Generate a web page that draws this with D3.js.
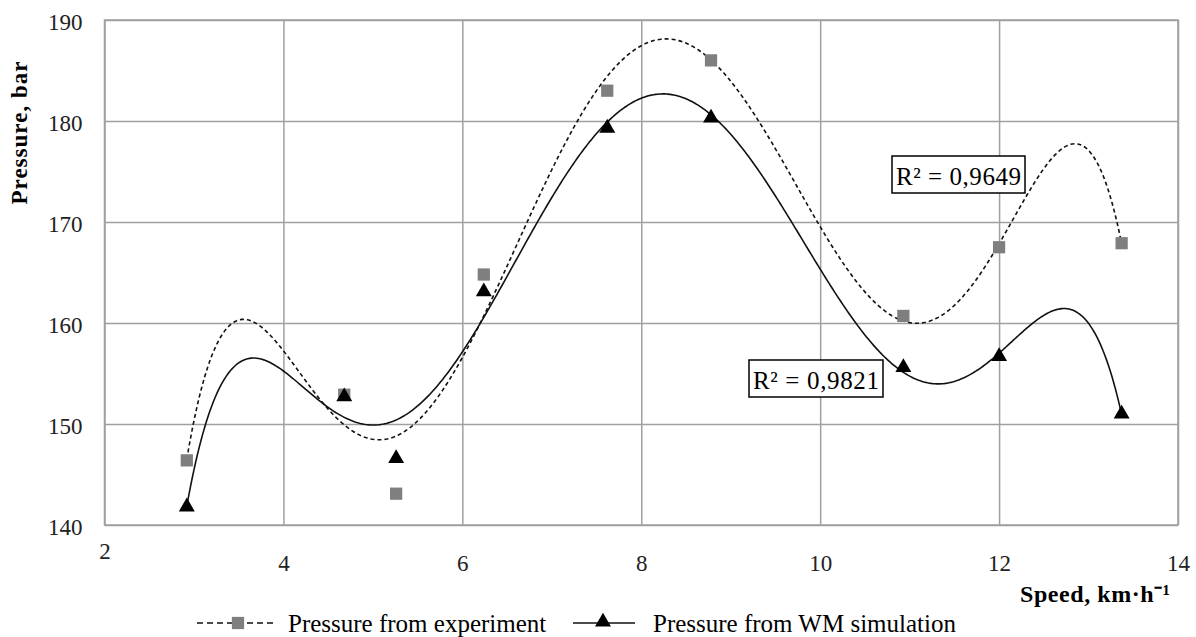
<!DOCTYPE html>
<html>
<head>
<meta charset="utf-8">
<script src="https://cdn.jsdelivr.net/npm/d3@7"></script>
<style>
  body { margin: 0; background: #fff; }
  text { font-family: "Liberation Serif", "Times New Roman", serif; }
</style>
</head>
<body>
<main></main>
<script>
// values
const speed = [2.92, 4.68, 5.26, 6.24, 7.62, 8.78, 10.93, 12.0, 13.37]
const pressureExp = [146.4, 152.9, 143.1, 164.8, 183.0, 186.0, 160.7, 167.5, 167.9]
const pressureSim = [141.8, 152.7, 146.6, 163.1, 179.3, 180.3, 155.6, 156.7, 151.0]
const xTicks = [2, 4, 6, 8, 10, 12, 14]
const yTicks = [140, 150, 160, 170, 180, 190]
const seriesNames = ["Pressure from experiment", "Pressure from WM simulation"]
const r2Labels = ["R² = 0,9649", "R² = 0,9821"]

const svgWidth = 1196
const svgHeight = 637
const plotLeft = 104.5, plotRight = 1178, plotTop = 20, plotBottom = 525

let svg = d3.select("main")
    .append("svg")
    .attr("width", svgWidth)
    .attr("height", svgHeight)
    .style("background-color", "white")

let xScale = d3.scaleLinear().domain([2, 14]).range([plotLeft, plotRight])
let yScale = d3.scaleLinear().domain([140, 190]).range([plotBottom, plotTop])

/* grid + axes */

let xGrid = svg.append("g")
    .attr("transform", `translate(0, ${plotBottom})`)
    .call(d3.axisBottom(xScale).tickValues(xTicks).tickSize(-(plotBottom - plotTop)).tickFormat(d3.format("d")).tickPadding(30))

let yGrid = svg.append("g")
    .attr("transform", `translate(${plotLeft}, 0)`)
    .call(d3.axisLeft(yScale).tickValues(yTicks).tickSize(-(plotRight - plotLeft)).tickFormat(d3.format("d")).tickPadding(22))

for (const ax of [xGrid, yGrid]) {
    ax.select(".domain").remove()
    ax.selectAll("line").style("stroke", "#a0a0a0").style("stroke-width", 1.5)
    ax.selectAll("text").style("font-size", "23px").style("fill", "#222")
        .style("font-family", "'Liberation Serif', serif")
}
yGrid.selectAll("text").attr("dy", "0.42em")
// the "2" label sits higher in the original
xGrid.selectAll("text").filter(d => d === 2).attr("y", 18)

svg.append("rect")
    .attr("x", plotLeft).attr("y", plotTop)
    .attr("width", plotRight - plotLeft).attr("height", plotBottom - plotTop)
    .attr("fill", "none").attr("stroke", "#a0a0a0").attr("stroke-width", 1.5)

/* axis titles */

svg.append("text")
    .attr("transform", "translate(27, 133) rotate(-90)")
    .attr("text-anchor", "middle")
    .attr("textLength", 143)
    .style("font-size", "23px").style("font-weight", "bold")
    .text("Pressure, bar")

svg.append("text")
    .attr("x", 1020).attr("y", 602)
    .attr("textLength", 150)
    .style("font-size", "24px").style("font-weight", "bold")
    .text("Speed, km·h⁻¹")

/* polynomial trend lines (order 6, like the spreadsheet) */

function polyFit(xs, ys, order) {
    const mx = d3.mean(xs), sx = (d3.max(xs) - d3.min(xs)) / 2
    const t = xs.map(x => (x - mx) / sx)
    const n = order + 1
    let A = Array.from({ length: n }, () => new Array(n + 1).fill(0))
    t.forEach((ti, k) => {
        for (let i = 0; i < n; i++) {
            for (let j = 0; j < n; j++) A[i][j] += Math.pow(ti, i + j)
            A[i][n] += Math.pow(ti, i) * ys[k]
        }
    })
    for (let c = 0; c < n; c++) {
        let p = c
        for (let r = c + 1; r < n; r++) if (Math.abs(A[r][c]) > Math.abs(A[p][c])) p = r
        const tmp = A[c]; A[c] = A[p]; A[p] = tmp
        for (let r = 0; r < n; r++) {
            if (r === c) continue
            const f = A[r][c] / A[c][c]
            for (let j = c; j <= n; j++) A[r][j] -= f * A[c][j]
        }
    }
    const coef = A.map((row, i) => row[n] / row[i])
    return x => {
        const u = (x - mx) / sx
        return coef.reduce((s, c, i) => s + c * Math.pow(u, i), 0)
    }
}

const xs = d3.range(d3.min(speed), d3.max(speed) + 0.001, 0.02)
const fitExp = polyFit(speed, pressureExp, 6)
const fitSim = polyFit(speed, pressureSim, 6)

let line = d3.line().x(d => xScale(d[0])).y(d => yScale(d[1]))

svg.append("path")
    .attr("d", line(xs.map(x => [x, fitExp(x)])))
    .attr("fill", "none").attr("stroke", "#111").attr("stroke-width", 1.6)
    .attr("stroke-dasharray", "4,3")

svg.append("path")
    .attr("d", line(xs.map(x => [x, fitSim(x)])))
    .attr("fill", "none").attr("stroke", "#111").attr("stroke-width", 1.6)

/* markers */

const square = d3.symbol().type(d3.symbolSquare).size(150)
const triangle = d3.symbol().type(d3.symbolTriangle).size(110)

svg.append("g").selectAll("path")
    .data(speed.map((s, i) => [s, pressureExp[i]]))
    .enter().append("path")
    .attr("d", square)
    .attr("transform", d => `translate(${xScale(d[0])}, ${yScale(d[1])})`)
    .attr("fill", "#7f7f7f")

svg.append("g").selectAll("path")
    .data(speed.map((s, i) => [s, pressureSim[i]]))
    .enter().append("path")
    .attr("d", triangle)
    .attr("transform", d => `translate(${xScale(d[0])}, ${yScale(d[1])})`)
    .attr("fill", "#000")

/* R² boxes */

const boxes = [
    { x: 892, y: 156, w: 133, h: 37, text: r2Labels[0] },
    { x: 749, y: 360, w: 134, h: 37, text: r2Labels[1] }
]
let rg = svg.append("g").selectAll("g").data(boxes).enter().append("g")
rg.append("rect")
    .attr("x", d => d.x).attr("y", d => d.y)
    .attr("width", d => d.w).attr("height", d => d.h)
    .attr("fill", "white").attr("stroke", "#000").attr("stroke-width", 1.5)
rg.append("text")
    .attr("x", d => d.x + 4).attr("y", d => d.y + 29)
    .attr("textLength", d => d.w - 8)
    .style("font-size", "25px")
    .text(d => d.text)

/* legend */

let legend = svg.append("g")
legend.append("line")
    .attr("x1", 197).attr("x2", 277).attr("y1", 623).attr("y2", 623)
    .attr("stroke", "#111").attr("stroke-width", 1.5).attr("stroke-dasharray", "6,4")
legend.append("path").attr("d", square).attr("transform", "translate(238, 623)").attr("fill", "#7f7f7f")
legend.append("text").attr("x", 288).attr("y", 632).style("font-size", "25px").text(seriesNames[0])

legend.append("line")
    .attr("x1", 573).attr("x2", 635).attr("y1", 623).attr("y2", 623)
    .attr("stroke", "#111").attr("stroke-width", 1.5)
legend.append("path").attr("d", triangle).attr("transform", "translate(603, 622)").attr("fill", "#000")
legend.append("text").attr("x", 653).attr("y", 632).style("font-size", "25px").text(seriesNames[1])
</script>
</body>
</html>
